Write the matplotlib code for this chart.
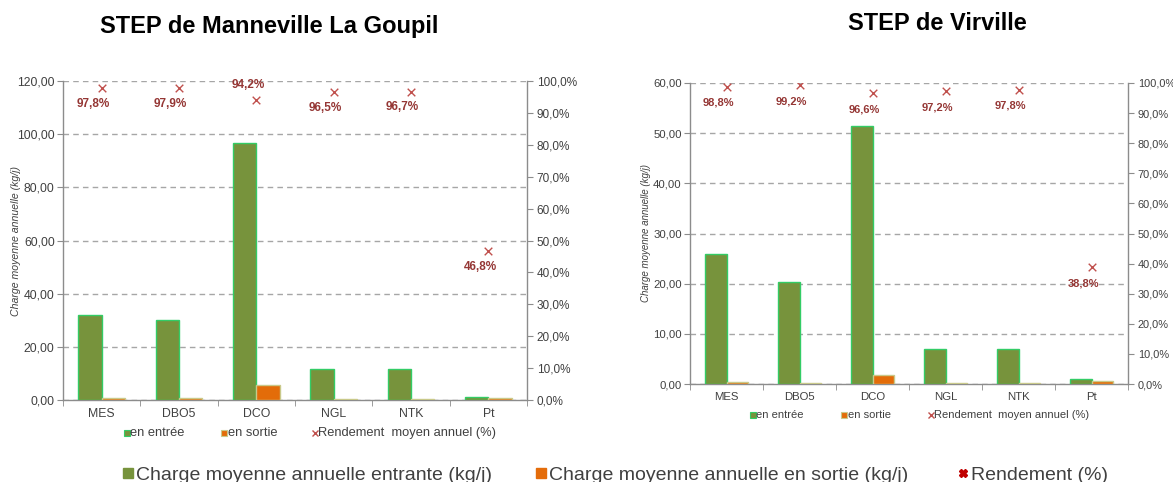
import matplotlib
matplotlib.use("Agg")
import matplotlib.pyplot as plt
import numpy as np
from matplotlib.lines import Line2D

plt.rcParams['font.family'] = ['Liberation Sans', 'DejaVu Sans']

categories = ["MES", "DBO5", "DCO", "NGL", "NTK", "Pt"]

# STEP de Manneville La Goupil
mann_in = [32.0, 30.0, 96.5, 11.5, 11.5, 1.2]
mann_out = [0.6, 0.6, 5.5, 0.3, 0.3, 0.6]
mann_rend = [97.8, 97.9, 94.2, 96.5, 96.7, 46.8]

# STEP de Virville
virv_in = [26.0, 20.3, 51.5, 7.0, 7.0, 0.9]
virv_out = [0.4, 0.1, 1.8, 0.1, 0.1, 0.5]
virv_rend = [98.8, 99.2, 96.6, 97.2, 97.8, 38.8]

GREEN = "#77933C"
GREEN_EDGE = "#33CC66"
ORANGE = "#E36C09"
ORANGE_EDGE = "#C9C98A"
RED_M = "#C0504D"
RED_T = "#953735"
TXT = "#404040"
GRID = "#A6A6A6"
SPINE = "#8C8C8C"

W, H = 1173, 482
fig = plt.figure(figsize=(W / 100, H / 100), dpi=100)


def px_axes(x0, x1, ytop, ybot):
    return fig.add_axes([x0 / W, 1 - ybot / H, (x1 - x0) / W, (ybot - ytop) / H])


def draw(ax, vin, vout, rend, ymax, ystep, above_idx, fs, lab_fs, ylab_fs, ylab_x):
    n = len(categories)
    x = np.arange(n)
    bw = 0.3
    ax.bar(x - bw / 2, vin, bw, color=GREEN, edgecolor=GREEN_EDGE, linewidth=1.0, zorder=3)
    ax.bar(x + bw / 2, vout, bw, color=ORANGE, edgecolor=ORANGE_EDGE, linewidth=1.0, zorder=3)
    ax.set_xlim(-0.5, n - 0.5)
    ax.set_ylim(0, ymax)
    yt = np.arange(0, ymax + 0.01, ystep)
    ax.set_yticks(yt)
    ax.set_yticklabels([f"{v:.2f}".replace(".", ",") for v in yt], fontsize=fs, color=TXT)
    ax.yaxis.grid(True, linestyle=(0, (4, 3)), color=GRID, linewidth=1.0, zorder=0)
    ax.set_axisbelow(True)
    ax.set_xticks(x)
    ax.set_xticklabels(categories, fontsize=fs, color=TXT)
    ax.set_xticks(np.arange(-0.5, n, 1.0), minor=True)
    ax.tick_params(axis='x', which='major', length=0, pad=6)
    ax.tick_params(axis='x', which='minor', length=4, color=SPINE, direction='out')
    ax.tick_params(axis='y', length=4, color=SPINE, pad=2)
    for s in ["top", "right"]:
        ax.spines[s].set_visible(False)
    for s in ["left", "bottom"]:
        ax.spines[s].set_color(SPINE)
        ax.spines[s].set_linewidth(1.0)
    ax.set_ylabel("Charge moyenne annuelle (kg/j)", fontsize=ylab_fs, style='italic', color=TXT)
    ax.yaxis.set_label_coords(ylab_x, 0.5)

    ax2 = ax.twinx()
    ax2.set_ylim(0, 100)
    t2 = np.arange(0, 101, 10)
    ax2.set_yticks(t2)
    ax2.set_yticklabels([f"{v:.1f}".replace(".", ",") + "%" for v in t2], fontsize=fs - 0.3, color=TXT)
    ax2.tick_params(axis='y', length=4, color=SPINE, pad=3)
    for s in ["top", "left", "bottom"]:
        ax2.spines[s].set_visible(False)
    ax2.spines["right"].set_color(SPINE)
    ax2.spines["right"].set_linewidth(1.0)
    ax2.scatter(x, rend, marker='x', color=RED_M, s=30, linewidths=1.0, zorder=5)
    for i, r in enumerate(rend):
        lab = f"{r:.1f}".replace(".", ",") + "%"
        dy = 10.5 if i in above_idx else -11.5
        ax2.annotate(lab, (x[i], r), xytext=(-6, dy),
                     textcoords='offset points', ha='center', va='center',
                     fontsize=lab_fs, fontweight='bold', color=RED_T, zorder=6)
    return ax2


ax_l = px_axes(63, 527, 81, 400)
draw(ax_l, mann_in, mann_out, mann_rend, 120, 20, [2], 8.8, 8.5, 7.6, -0.09)
ax_r = px_axes(690, 1128, 83, 384)
draw(ax_r, virv_in, virv_out, virv_rend, 60, 10, [], 8.2, 8.0, 7.0, -0.09)

# Titles
fig.text(269 / W, 1 - 33 / H, "STEP de Manneville La Goupil", ha='center', va='baseline',
         fontsize=17, fontweight='bold', color='black')
fig.text(937 / W, 1 - 30 / H, "STEP de Virville", ha='center', va='baseline',
         fontsize=17, fontweight='bold', color='black')


def small_legend(xs, y, fs, ms):
    items = [
        (xs[0], 's', GREEN, GREEN_EDGE, "en entrée"),
        (xs[1], 's', ORANGE, ORANGE_EDGE, "en sortie"),
        (xs[2], 'x', RED_M, RED_M, "Rendement  moyen annuel (%)"),
    ]
    for xx, m, c, ec, t in items:
        fig.lines.append(Line2D([xx / W], [1 - y / H], marker=m, markersize=ms,
                                markerfacecolor=c, markeredgecolor=ec, color=c,
                                linestyle='none', markeredgewidth=1.0 if m == 'x' else 0.8,
                                transform=fig.transFigure))
        fig.text((xx + 3.5) / W, 1 - y / H, t, ha='left', va='center', fontsize=fs, color=TXT)


small_legend([127, 224, 315], 433, 9.3, 5)
small_legend([753, 844, 931], 415, 8.0, 4.5)

# Bottom legend
big = [
    (128, 's', "#77933C", "Charge moyenne annuelle entrante (kg/j)"),
    (541, 's', "#E46C0A", "Charge moyenne annuelle en sortie (kg/j)"),
    (963, 'X', "#C00000", "Rendement (%)"),
]
for xx, m, c, t in big:
    fig.lines.append(Line2D([xx / W], [1 - 473 / H], marker=m, markersize=6.5 if m == 's' else 6,
                            color=c, markeredgecolor=c, linestyle='none',
                            transform=fig.transFigure))
    fig.text((xx + 8) / W, 1 - 480 / H, t, ha='left', va='baseline', fontsize=14, color=TXT)

fig.savefig("out.png", dpi=100)
